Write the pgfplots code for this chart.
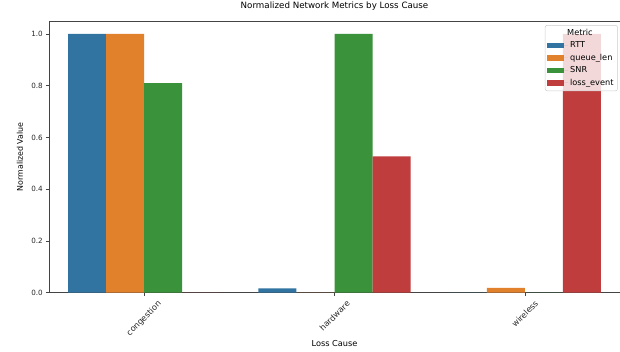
\documentclass[border=0pt]{standalone}
\usepackage{pgfplots}
\pgfplotsset{compat=1.18}
\usepackage{fontspec}
\setmainfont{DejaVu Sans}
\definecolor{cRTT}{HTML}{3274A1}
\definecolor{cQ}{HTML}{E1812C}
\definecolor{cSNR}{HTML}{3A923A}
\definecolor{cLoss}{HTML}{C03D3E}
\definecolor{spine}{HTML}{444444}
\begin{document}
\begin{tikzpicture}
\begin{axis}[
  name=ax,
  scale only axis,
  width=571pt, height=271.7pt,
  xmin=-0.5, xmax=2.5, ymin=0, ymax=1.05,
  xtick={0,1,2},
  xticklabels={\rotatebox{45}{congestion},\rotatebox{45}{hardware},\rotatebox{45}{wireless}},
  xticklabel style={anchor=north, inner sep=0pt, yshift=-4pt, font=\fontsize{8.2}{9}\selectfont},
  ytick={0,0.2,0.4,0.6,0.8,1.0},
  yticklabel style={/pgf/number format/fixed,/pgf/number format/precision=1,/pgf/number format/fixed zerofill, inner sep=0pt, xshift=-3pt, font=\fontsize{7.2}{8}\selectfont},
  /pgf/number format/assume math mode=true,
  tick label style={text=black!85},
  tick align=outside, tick pos=left,
  major tick length=3pt,
  every tick/.style={spine, line width=0.6pt},
  axis line style={spine, line width=0.7pt},
  title={Normalized Network Metrics by Loss Cause},
  title style={at={([yshift=9pt]rel axis cs:0.5,1)}, anchor=center, font=\fontsize{8.7}{10}\selectfont, inner sep=0pt},
  xlabel={Loss Cause},
  ylabel={Normalized Value},
  every axis x label/.style={at={([yshift=-51pt]rel axis cs:0.5,0)}, anchor=center, font=\fontsize{8.2}{9}\selectfont, inner sep=0pt},
  every axis y label/.style={at={([xshift=-29pt]rel axis cs:0,0.5)}, rotate=90, anchor=center, font=\fontsize{7.9}{9}\selectfont, inner sep=0pt},
  ybar, bar width=0.2,
  legend style={at={(0.996,0.985)}, anchor=north east, draw={rgb,255:red,204;green,204;blue,204}, line width=0.5pt, rounded corners=2pt, fill=white, fill opacity=0.8, text opacity=1, draw opacity=1, font=\fontsize{8.2}{9}\selectfont, row sep=0.8pt, inner xsep=2pt, inner ysep=2pt, cells={anchor=west}},
  legend image code/.code={\fill[#1, sharp corners, fill opacity=1] (0pt,-2.7pt) rectangle (16.7pt,2.7pt); \path (0pt,0pt) -- (21pt,0pt);},
]
\addlegendimage{empty legend}
\addlegendentry{\hspace*{-3pt}Metric}
\addplot[fill=cRTT, draw=none, bar shift=-0.3] coordinates {(0,1.0) (1,0.017) (2,0)};
\addlegendentry{RTT}
\addplot[fill=cQ, draw=none, bar shift=-0.1] coordinates {(0,1.0) (1,0) (2,0.019)};
\addlegendentry{queue\_len}
\addplot[fill=cSNR, draw=none, bar shift=0.1] coordinates {(0,0.81) (1,1.0) (2,0)};
\addlegendentry{SNR}
\addplot[fill=cLoss, draw=none, bar shift=0.3] coordinates {(0,0) (1,0.527) (2,1.0)};
\addlegendentry{loss\_event}
\end{axis}
\pgfresetboundingbox
\path[use as bounding box] ([xshift=-49pt,yshift=-58.3pt]ax.south west) rectangle ([yshift=21pt]ax.north east);
\end{tikzpicture}
\end{document}
